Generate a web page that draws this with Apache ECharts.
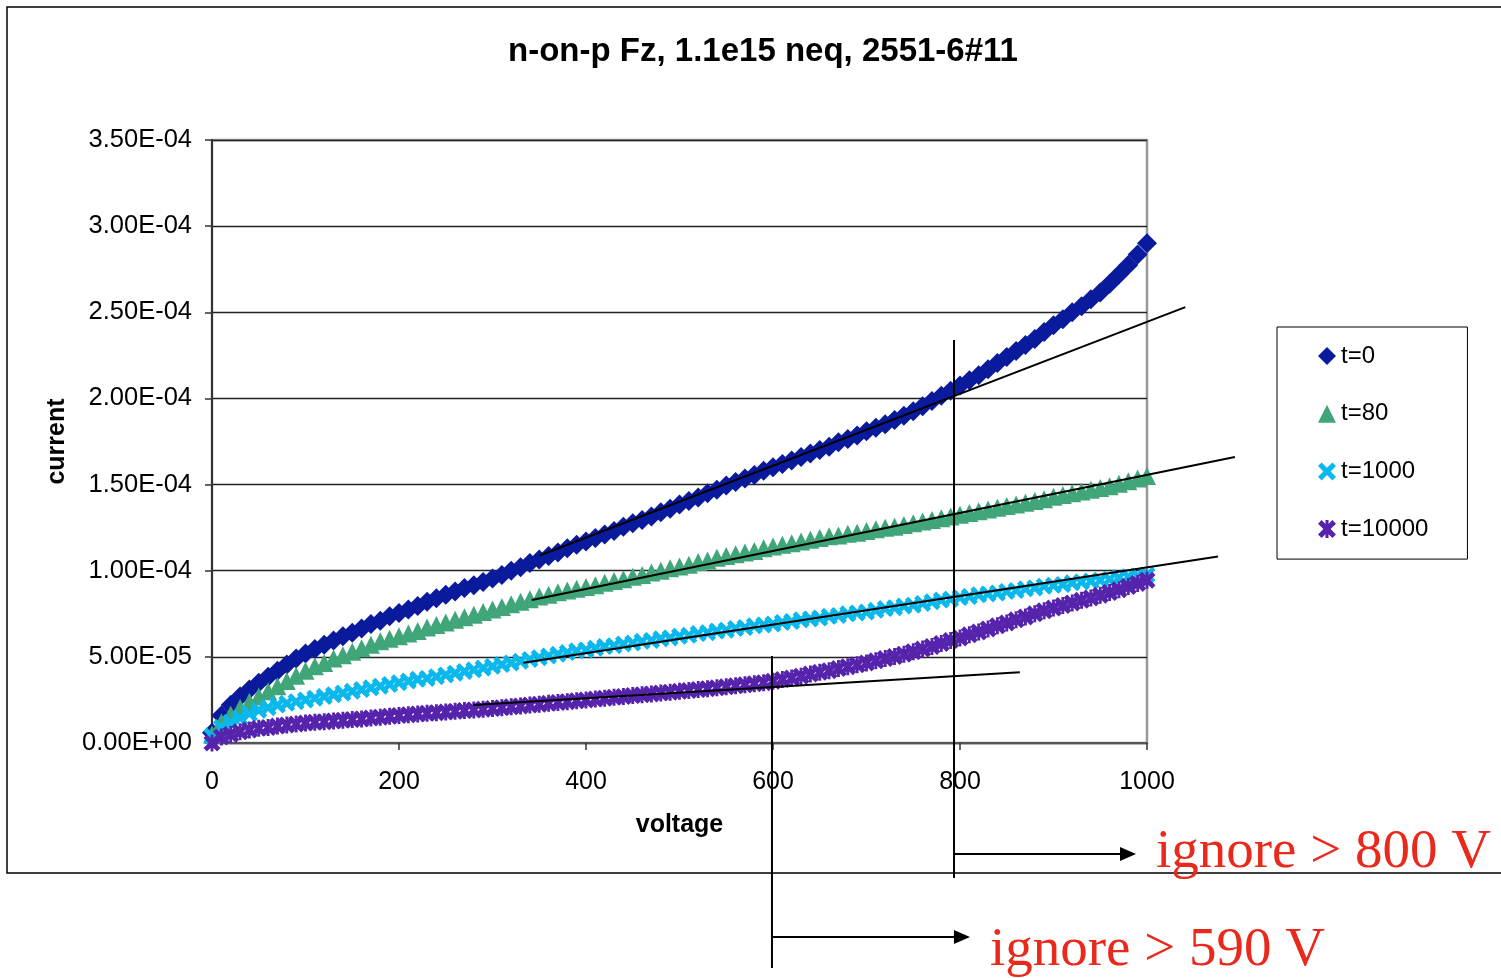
<!DOCTYPE html>
<html>
<head>
<meta charset="utf-8">
<title>n-on-p Fz, 1.1e15 neq, 2551-6#11</title>
<script src="https://cdn.jsdelivr.net/npm/echarts@6/dist/echarts.min.js"></script>
<style>
  html, body { margin: 0; padding: 0; background: #fff; }
  #chart { width: 1501px; height: 978px; }
</style>
</head>
<body>
<div id="chart"></div>
<script>
// bias voltage (V)
const voltage = [
  0, 10, 20, 30, 40, 50, 60, 70, 80, 90,
  100, 110, 120, 130, 140, 150, 160, 170, 180, 190,
  200, 210, 220, 230, 240, 250, 260, 270, 280, 290,
  300, 310, 320, 330, 340, 350, 360, 370, 380, 390,
  400, 410, 420, 430, 440, 450, 460, 470, 480, 490,
  500, 510, 520, 530, 540, 550, 560, 570, 580, 590,
  600, 610, 620, 630, 640, 650, 660, 670, 680, 690,
  700, 710, 720, 730, 740, 750, 760, 770, 780, 790,
  800, 810, 820, 830, 840, 850, 860, 870, 880, 890,
  900, 910, 920, 930, 940, 950, 960, 970, 980, 990,
  1000
];

// leakage current in uA
const currentT0 = [
  6, 16, 22, 27, 31, 35, 38.5, 42, 45.5, 49,
  52, 54.5, 57, 59.5, 62, 64, 66.5, 69, 71, 73.5,
  75.5, 77.5, 79.5, 82, 84, 86, 88, 90, 91.5, 93.5,
  95.5, 97.5, 100, 102, 104.5, 106.5, 108.5, 110.5, 113, 115,
  117, 119, 121, 123, 125.5, 127.5, 129.5, 131.5, 134, 136,
  138.5, 140.5, 142.5, 145, 147, 149.5, 151.5, 153.5, 155.5, 158,
  160, 162, 164, 166, 168, 170, 172, 174.5, 176.5, 178.5,
  181, 183, 185, 187.5, 190, 192.5, 195.5, 198.5, 201.5, 204.5,
  207.5, 210.5, 213.5, 217, 220.5, 224, 227.5, 231, 234.5, 238.5,
  242.5, 246, 250, 253.5, 257.5, 261.5, 266.5, 272, 277.5, 283.5,
  290
];
const currentT80 = [
  5, 12, 16.5, 20.5, 24, 27, 30, 33, 36, 39,
  42, 44.5, 46.5, 49, 51, 53, 55, 57, 59, 60.5,
  62, 63.5, 65, 67, 68.5, 70, 71.5, 73, 74.5, 76,
  77.5, 79, 80.5, 82, 83.5, 85, 86, 87.5, 88.5, 89.5,
  90.5, 91.5, 93, 94, 95, 96.5, 97.5, 99, 100, 101.5,
  102.5, 103.5, 105, 106, 107.5, 108.5, 109.5, 110.5, 111.5, 113,
  114, 115, 116, 117, 118, 119, 120, 120.5, 121.5, 122,
  123, 124, 125, 125.5, 126.5, 127.5, 128.5, 129.5, 130.5, 131.5,
  132.5, 133.5, 134.5, 135.5, 136.5, 137.5, 138.5, 139.5, 140.5, 141.5,
  143, 144, 145, 146, 147, 148, 149, 150.5, 152, 153.5,
  155
];
const currentT1000 = [
  4, 9, 12, 14.5, 17, 19, 20.5, 22, 23, 24,
  25, 26, 27, 28, 29, 30, 31, 32, 33, 34,
  35, 36, 37, 37.5, 38.5, 39.5, 40.5, 41.5, 42.5, 43.5,
  44.5, 45.5, 46.5, 47.5, 48.5, 49.5, 50.5, 51.5, 52.5, 53.5,
  54, 55, 56, 56.5, 57.5, 58, 59, 59.5, 60.5, 61,
  62, 62.5, 63.5, 64, 65, 65.5, 66.5, 67, 68, 68.5,
  69, 70, 70.5, 71.5, 72, 72.5, 73.5, 74, 75, 75.5,
  76, 77, 78, 78.5, 79.5, 80, 81, 82, 83, 83.5,
  84.5, 85, 86, 86.5, 87, 88, 88.5, 89.5, 90, 91,
  91.5, 92, 93, 93.5, 94, 94.5, 95, 96, 96.5, 97,
  97.5
];
const currentT10000 = [
  0, 3.5, 5, 6.5, 7.5, 8.5, 9, 9.8, 10.4, 11,
  11.6, 12, 12.4, 12.8, 13.2, 13.6, 14, 14.5, 15, 15.5,
  16, 16.4, 16.8, 17.2, 17.6, 18, 18.4, 18.8, 19.2, 19.6,
  20, 20.5, 21, 21.5, 22, 22.5, 23, 23.5, 24, 24.5,
  25, 25.5, 26, 26.5, 27, 27.5, 28, 28.5, 29, 29.5,
  30, 30.5, 31, 31.5, 32, 32.6, 33.2, 33.8, 34.4, 35,
  35.8, 36.8, 37.8, 38.8, 40, 41, 42, 43.2, 44.3, 45.4,
  46.5, 47.7, 49, 50.2, 51.5, 53, 54.5, 56, 57.8, 59.5,
  61, 62.8, 64.5, 66.2, 68, 69.7, 71.5, 73.2, 75, 76.7,
  78.3, 79.8, 81.3, 82.8, 84.2, 85.7, 87.3, 89, 90.8, 92.6,
  94.5
];

const seriesNames = ['t=0', 't=80', 't=1000', 't=10000'];

// hand drawn annotations, in (V, uA)
const trendLines = [
  [[351, 109], [1041, 253]],
  [[342, 83], [1094, 166]],
  [[333, 46.6], [1076, 108.2]],
  [[279.5, 22], [864, 41]]
];
const cutLines = [
  [[793.6, 233.9], [793.6, -78.4]],
  [[598.9, 50.5], [598.9, -130.6]]
];
const arrowLines = [
  [[793.6, -64.4], [979.7, -64.4]],
  [[598.9, -112.6], [802.1, -112.6]]
];
const arrowTips = [[979.7, -64.4], [802.1, -112.6]];
const ignoreLabels = ['ignore > 800 V', 'ignore > 590 V'];

// 1.50E-04 style, axis values are in uA
function sci(uA) {
  if (uA === 0) return '0.00E+00';
  const parts = (uA * 1e-6).toExponential(2).split('e');
  const n = parseInt(parts[1], 10);
  return parts[0] + 'E' + (n < 0 ? '-' : '+') + String(Math.abs(n)).padStart(2, '0');
}

const crossPath = 'path://M0,4L4,0L10,6L16,0L20,4L14,10L20,16L16,20L10,14L4,20L0,16L6,10Z';
const starPath = 'path://M0,4L4,0L10,6L16,0L20,4L14,10L20,16L16,20L10,14L4,20L0,16L6,10Z M8.3,0L11.7,0L11.7,20L8.3,20Z';

const pairs = arr => voltage.map((v, i) => [v, arr[i]]);

const markers = [
  { name: seriesNames[0], values: currentT0, symbol: 'diamond', size: 20, color: '#0A1A9C' },
  { name: seriesNames[1], values: currentT80, symbol: 'triangle', size: 18, color: '#40A67A' },
  { name: seriesNames[2], values: currentT1000, symbol: crossPath, size: 17, color: '#0BB8EC' },
  { name: seriesNames[3], values: currentT10000, symbol: starPath, size: 17, color: '#5623AC' }
].map(s => ({
  type: 'scatter',
  name: s.name,
  data: pairs(s.values),
  symbol: s.symbol,
  symbolSize: s.size,
  itemStyle: { color: s.color, opacity: 1 },
  emphasis: { disabled: true },
  z: 2
}));

// arrow heads with the red notes
const arrowSeries = {
  type: 'scatter',
  clip: false,
  silent: true,
  symbol: 'triangle',
  symbolRotate: -90,
  symbolSize: [14, 16],
  itemStyle: { color: '#000', opacity: 1 },
  z: 5,
  data: arrowTips.map((p, i) => ({
    value: p,
    label: {
      show: true,
      position: 'right',
      distance: 20,
      offset: i === 1 ? [0, 14] : [0, -1],
      formatter: ignoreLabels[i],
      color: '#E8291C',
      fontFamily: 'Liberation Serif',
      fontSize: 55
    }
  }))
};

const frame = {
  id: 'frame',
  type: 'rect',
  shape: { x: 7, y: 7, width: 1500, height: 866 },
  style: { fill: 'none', stroke: '#000', lineWidth: 1.5 },
  silent: true,
  z: -1
};

const chart = echarts.init(document.getElementById('chart'));
chart.setOption({
  animation: false,
  backgroundColor: '#fff',
  title: {
    text: 'n-on-p Fz, 1.1e15 neq, 2551-6#11',
    left: 758,
    top: 30,
    textAlign: 'center',
    textStyle: { fontFamily: 'Liberation Sans', fontSize: 33, fontWeight: 'bold', color: '#000' }
  },
  graphic: [frame],
  legend: {
    data: seriesNames,
    orient: 'vertical',
    left: 1277,
    top: 327,
    padding: [17, 39, 18, 41],
    itemGap: 33.7,
    itemWidth: 18,
    itemHeight: 18,
    borderColor: '#000',
    borderWidth: 1,
    backgroundColor: '#fff',
    selectedMode: false,
    textStyle: { fontFamily: 'Liberation Sans', fontSize: 24, color: '#000' }
  },
  grid: {
    left: 212, right: 354, top: 140, bottom: 235,
    show: true,
    backgroundColor: '#fff',
    borderColor: '#999',
    borderWidth: 2.5,
    containLabel: false,
    outerBoundsMode: 'none'
  },
  xAxis: {
    type: 'value',
    min: 0, max: 1000, interval: 200,
    name: 'voltage',
    nameLocation: 'middle',
    nameGap: 70,
    nameMoveOverlap: false,
    nameTextStyle: { fontFamily: 'Liberation Sans', fontSize: 25, fontWeight: 'bold', color: '#000' },
    axisLine: { show: true, onZero: false, lineStyle: { color: '#555', width: 2 } },
    axisTick: { show: true, inside: false, length: 7, lineStyle: { color: '#333', width: 1.5 } },
    axisLabel: {
      margin: 27, showMinLabel: true, showMaxLabel: true,
      formatter: v => String(v),
      fontFamily: 'Liberation Sans', fontSize: 25, color: '#000'
    },
    splitLine: { show: false }
  },
  yAxis: {
    type: 'value',
    min: 0, max: 350, interval: 50,
    name: 'current',
    nameLocation: 'middle',
    nameGap: 142,
    nameMoveOverlap: false,
    nameTextStyle: { fontFamily: 'Liberation Sans', fontSize: 25, fontWeight: 'bold', color: '#000' },
    axisLine: { show: true, lineStyle: { color: '#333', width: 2 } },
    axisTick: { show: true, inside: false, length: 7, lineStyle: { color: '#333', width: 1.5 } },
    axisLabel: {
      margin: 20, formatter: sci, showMinLabel: true, showMaxLabel: true,
      fontFamily: 'Liberation Sans', fontSize: 25.5, color: '#000'
    },
    splitLine: { show: true, lineStyle: { color: '#222', width: 1.3 } }
  },
  series: [...markers, arrowSeries]
});

// black annotation lines, placed through the chart's own axes
const toPx = p => chart.convertToPixel({ gridIndex: 0 }, p);
const segments = [...trendLines, ...cutLines, ...arrowLines].map((seg, i) => {
  const a = toPx(seg[0]);
  const b = toPx(seg[1]);
  return {
    id: 'seg' + i,
    type: 'line',
    shape: { x1: a[0], y1: a[1], x2: b[0], y2: b[1] },
    style: { stroke: '#000', lineWidth: 2 },
    silent: true,
    z: 10
  };
});
chart.setOption({ graphic: [frame, ...segments] });
</script>
</body>
</html>
